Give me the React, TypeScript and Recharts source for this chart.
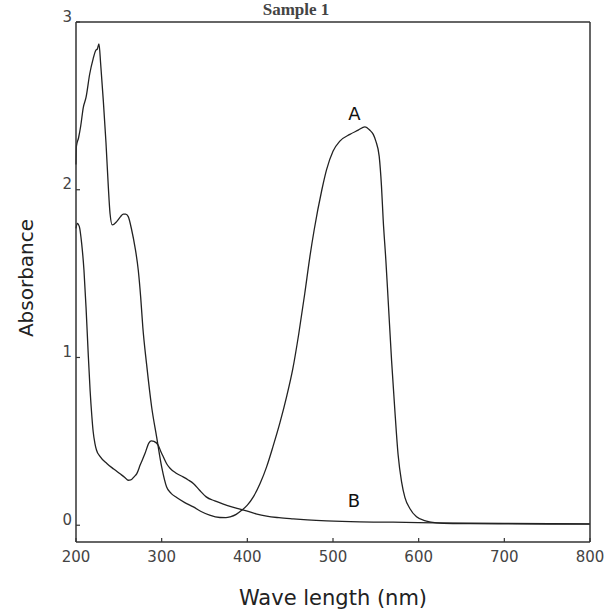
import React from 'react';
import {
  LineChart,
  Line,
  XAxis,
  YAxis,
  ReferenceDot,
  Label
} from 'recharts';

// curve A (the one with the visible band near 530 nm)
const aWave = [
  200, 200.5, 203, 205.5, 208.5, 211.7, 216, 220, 223, 225, 226.8, 228.8, 231.9, 235, 237.7,
  239.7, 242.4, 247.5, 252, 255.2, 258, 261, 265, 268.8, 272.7, 275.5, 278, 282.4, 288.3,
  294.1, 300, 305.8, 311, 317.5, 327, 337, 346, 356, 368, 375, 380, 387, 393.4, 400, 407,
  415, 422.5, 430, 438, 446, 453, 460, 467, 473, 478, 487, 492.5, 500, 508, 519.7, 529.4,
  537.2, 543, 547, 550, 553.9, 556.6, 558.6, 561.7, 564.4, 568.4, 572, 576, 580, 584,
  589.7, 597.5, 609, 621, 640, 660, 700, 800
];
const aAbs = [
  2.15, 2.26, 2.31, 2.38, 2.49, 2.55, 2.69, 2.78, 2.83, 2.84, 2.87, 2.75, 2.53, 2.28, 2.02,
  1.86, 1.79, 1.81, 1.84, 1.855, 1.855, 1.84, 1.76, 1.66, 1.52, 1.36, 1.18, 0.96, 0.705,
  0.527, 0.348, 0.228, 0.19, 0.165, 0.135, 0.109, 0.082, 0.06, 0.046, 0.045, 0.05, 0.065, 0.089, 0.12, 0.169,
  0.25, 0.348, 0.47, 0.61, 0.77, 0.93, 1.14, 1.38, 1.6, 1.76, 2.0, 2.12, 2.23, 2.29, 2.33, 2.355,
  2.375, 2.355, 2.33, 2.29, 2.2, 2.02, 1.82, 1.58, 1.34, 0.98, 0.7, 0.42, 0.26, 0.165,
  0.1, 0.05, 0.024, 0.014, 0.01, 0.009, 0.008, 0.007
];

// curve B
const bWave = [
  200, 201.5, 203.9, 206.6, 209.3, 211.7, 214, 216.5, 218.5, 220, 222, 224, 228, 236, 244,
  251, 257, 261, 264, 268, 271, 275, 280.5, 285, 288, 291, 296, 299, 302, 306, 310, 317,
  325, 331, 337, 344, 352, 362, 376, 388, 399, 410, 422.5, 437, 453.6, 470, 492.5, 531,
  570, 620, 700, 800
];
const bAbs = [
  1.77, 1.8, 1.78, 1.68, 1.52, 1.3, 1.05, 0.8, 0.65, 0.56, 0.49, 0.447, 0.41, 0.368, 0.335,
  0.308, 0.285, 0.268, 0.27, 0.29, 0.308, 0.36, 0.427, 0.49, 0.503, 0.5, 0.477, 0.44, 0.407, 0.365, 0.338, 0.31,
  0.288, 0.27, 0.249, 0.21, 0.169, 0.145, 0.119, 0.1, 0.085, 0.068, 0.054, 0.045, 0.038, 0.032, 0.026, 0.02,
  0.018, 0.014, 0.011, 0.008
];

const xTicks = [200, 300, 400, 500, 600, 700, 800];
const yTicks = [0, 1, 2, 3];

const seriesA = aWave.map((nm, i) => ({ nm, abs: aAbs[i] }));
const seriesB = bWave.map((nm, i) => ({ nm, abs: bAbs[i] }));

const ink = '#333';
const tickFont = { fontFamily: 'DejaVu Sans', fontSize: 15, fill: '#444' };

const BottomTick = (props: any) => {
  const { x, y, payload } = props;
  return (
    <g>
      <line x1={x} y1={y} x2={x} y2={y - 4} stroke={ink} strokeWidth={1.2} />
      <text x={x} y={y + 20} textAnchor="middle" {...tickFont}>
        {payload.value}
      </text>
    </g>
  );
};

const TopTick = (props: any) => {
  const { x, y } = props;
  return <line x1={x} y1={y} x2={x} y2={y + 4} stroke={ink} strokeWidth={1.2} />;
};

const LeftTick = (props: any) => {
  const { x, y, payload } = props;
  return (
    <g>
      <line x1={x} y1={y} x2={x + 4} y2={y} stroke={ink} strokeWidth={1.2} />
      <text x={x - 4} y={y - 5} textAnchor="end" dominantBaseline="middle" {...tickFont}>
        {payload.value}
      </text>
    </g>
  );
};

const RightTick = (props: any) => {
  const { x, y } = props;
  return <line x1={x} y1={y} x2={x - 4} y2={y} stroke={ink} strokeWidth={1.2} />;
};

const YTitle = () => (
  <text
    x={33}
    y={278}
    transform="rotate(-90, 33, 278)"
    textAnchor="middle"
    fontFamily="DejaVu Sans"
    fontSize={20}
    fill="#222"
  >
    Absorbance
  </text>
);

export default function App() {
  const axisLine = { stroke: ink, strokeWidth: 1.5 };
  return (
    <div style={{ position: 'absolute', left: 0, top: 0, width: 605, height: 613, background: '#fff' }}>
      <LineChart width={605} height={613} margin={{ top: 21, right: 14, bottom: 0, left: 0 }}>
        <XAxis
          dataKey="nm"
          type="number"
          domain={[200, 800]}
          ticks={xTicks}
          height={71}
          axisLine={axisLine}
          tickLine={false}
          tickSize={0}
          tickMargin={0}
          tick={<BottomTick />}
        >
          <Label
            value="Wave length (nm)"
            position="insideBottom"
            offset={8}
            style={{ fontFamily: 'DejaVu Sans', fontSize: 21, fill: '#222' }}
          />
        </XAxis>
        <XAxis
          xAxisId="top"
          orientation="top"
          dataKey="nm"
          type="number"
          domain={[200, 800]}
          ticks={xTicks}
          height={1}
          axisLine={axisLine}
          tickLine={false}
          tickSize={0}
          tickMargin={0}
          tick={<TopTick />}
        />
        <YAxis
          type="number"
          domain={[-0.1, 3]}
          ticks={yTicks}
          width={76}
          axisLine={axisLine}
          tickLine={false}
          tickSize={0}
          tickMargin={0}
          tick={<LeftTick />}
        >
          <Label content={<YTitle />} />
        </YAxis>
        <YAxis
          yAxisId="right"
          orientation="right"
          type="number"
          domain={[-0.1, 3]}
          ticks={yTicks}
          width={1}
          axisLine={axisLine}
          tickLine={false}
          tickSize={0}
          tickMargin={0}
          tick={<RightTick />}
        />
        <Line
          data={seriesA}
          dataKey="abs"
          type="monotone"
          stroke="#222"
          strokeWidth={1.3}
          dot={false}
          activeDot={false}
          isAnimationActive={false}
        />
        <Line
          data={seriesB}
          dataKey="abs"
          type="monotone"
          stroke="#222"
          strokeWidth={1.3}
          dot={false}
          activeDot={false}
          isAnimationActive={false}
        />
        <ReferenceDot x={525} y={2.454} r={0} stroke="none" fill="none">
          <Label value="A" position="center" style={{ fontFamily: 'DejaVu Sans', fontSize: 18, fill: '#111' }} />
        </ReferenceDot>
        <ReferenceDot x={524.5} y={0.144} r={0} stroke="none" fill="none">
          <Label value="B" position="center" style={{ fontFamily: 'DejaVu Sans', fontSize: 18, fill: '#111' }} />
        </ReferenceDot>
      </LineChart>
      <svg width={605} height={30} style={{ position: 'absolute', left: 0, top: 0, pointerEvents: 'none' }}>
        <text x={296} y={15} textAnchor="middle" fontFamily="Liberation Serif" fontWeight="bold" fontSize={17} fill="#444">
          Sample 1
        </text>
      </svg>
    </div>
  );
}
